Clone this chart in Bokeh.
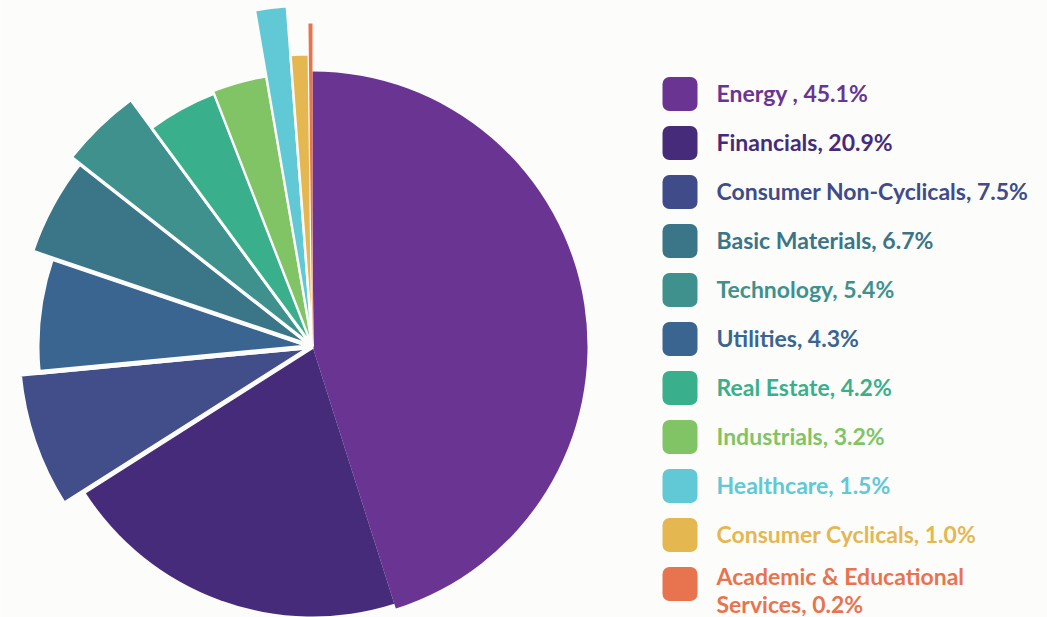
import numpy as np
from bokeh.plotting import figure
from bokeh.models import Range1d, ColumnDataSource
from bokeh.core.properties import value
from bokeh.embed import file_html
from bokeh.resources import INLINE

# ---------------- data ----------------
categories = ["Energy", "Financials", "Consumer Non-Cyclicals", "Basic Materials",
              "Technology", "Utilities", "Real Estate", "Industrials", "Healthcare",
              "Consumer Cyclicals", "Academic & Educational Services"]
shares = [45.1, 20.9, 7.5, 6.7, 5.4, 4.3, 4.2, 3.2, 1.5, 1.0, 0.2]
legend_labels = ["Energy , 45.1%", "Financials, 20.9%", "Consumer Non-Cyclicals, 7.5%",
                 "Basic Materials, 6.7%", "Technology, 5.4%", "Utilities, 4.3%",
                 "Real Estate, 4.2%", "Industrials, 3.2%", "Healthcare, 1.5%",
                 "Consumer Cyclicals, 1.0%", "Academic & Educational\nServices, 0.2%"]

# ---------------- styles ----------------
legend_colors = ["#6a3492", "#462b7a", "#404b89", "#3a7588", "#3e918d", "#3a6591",
                 "#3aaf8b", "#80c465", "#61c8d5", "#e5b750", "#e8744f"]
slice_colors = ["#6a3492", "#462b7a", "#414e8a", "#3a6591", "#3a7588", "#3e918d",
                "#3aaf8b", "#80c465", "#61c8d5", "#e5b750", "#e8744f"]
slice_radius = [275, 270, 292, 273, 294, 305, 270, 273, 340, 291, 323]
slice_stroke = [0, 0, 5, 5, 4, 3, 3, 2, 2.5, 2.5, 0]
BG = "#fcfcfb"

W, H = 1047, 617
# data coordinates = screen pixels (x) and H - screen pixels (y)
def sy(v):
    return H - v

p = figure(width=W, height=H, x_range=Range1d(0, W), y_range=Range1d(0, H),
           output_backend="svg", toolbar_location=None, min_border=0,
           x_axis_location=None, y_axis_location=None)
p.grid.visible = False
p.outline_line_color = None
p.background_fill_color = BG
p.border_fill_color = BG

# ---------------- pie ----------------
cx, cy = 312, sy(346)
tot = float(sum(shares))
cum = np.concatenate([[0.0], np.cumsum(shares)]) / tot * 2 * np.pi  # clockwise from top
t1, t2 = cum[:-1], cum[1:]
src = ColumnDataSource(dict(
    x=[cx] * len(shares), y=[cy] * len(shares),
    r=[r + lw / 2 for r, lw in zip(slice_radius, slice_stroke)],
    start=list(np.pi / 2 - t2), end=list(np.pi / 2 - t1),
    color=slice_colors, lw=slice_stroke,
))
p.wedge(x="x", y="y", radius="r", start_angle="start", end_angle="end",
        direction="anticlock", fill_color="color", line_color=BG,
        line_width="lw", source=src)

# ---------------- legend ----------------
sq_x0, sq_x1 = 662, 697
row0, step = 93.5, 49
tx = 716
for i, (lab, col) in enumerate(zip(legend_labels, legend_colors)):
    yc = row0 + step * i
    p.quad(left=sq_x0, right=sq_x1, top=sy(yc - 17), bottom=sy(yc + 17),
           fill_color=col, line_color=None, border_radius=7)
    lines = lab.split("\n")
    if len(lines) == 1:
        bases = [yc - 1.5]
    else:
        bases = [yc - 8, yc + 20]
    for ln, b in zip(lines, bases):
        p.text(x=[tx], y=[sy(b)], text=[ln], text_color=col,
               text_font=value("Lato"), text_font_style="bold",
               text_font_size="23px", text_baseline="alphabetic", text_align="left")

open("out.html", "w").write(file_html(p, INLINE))
